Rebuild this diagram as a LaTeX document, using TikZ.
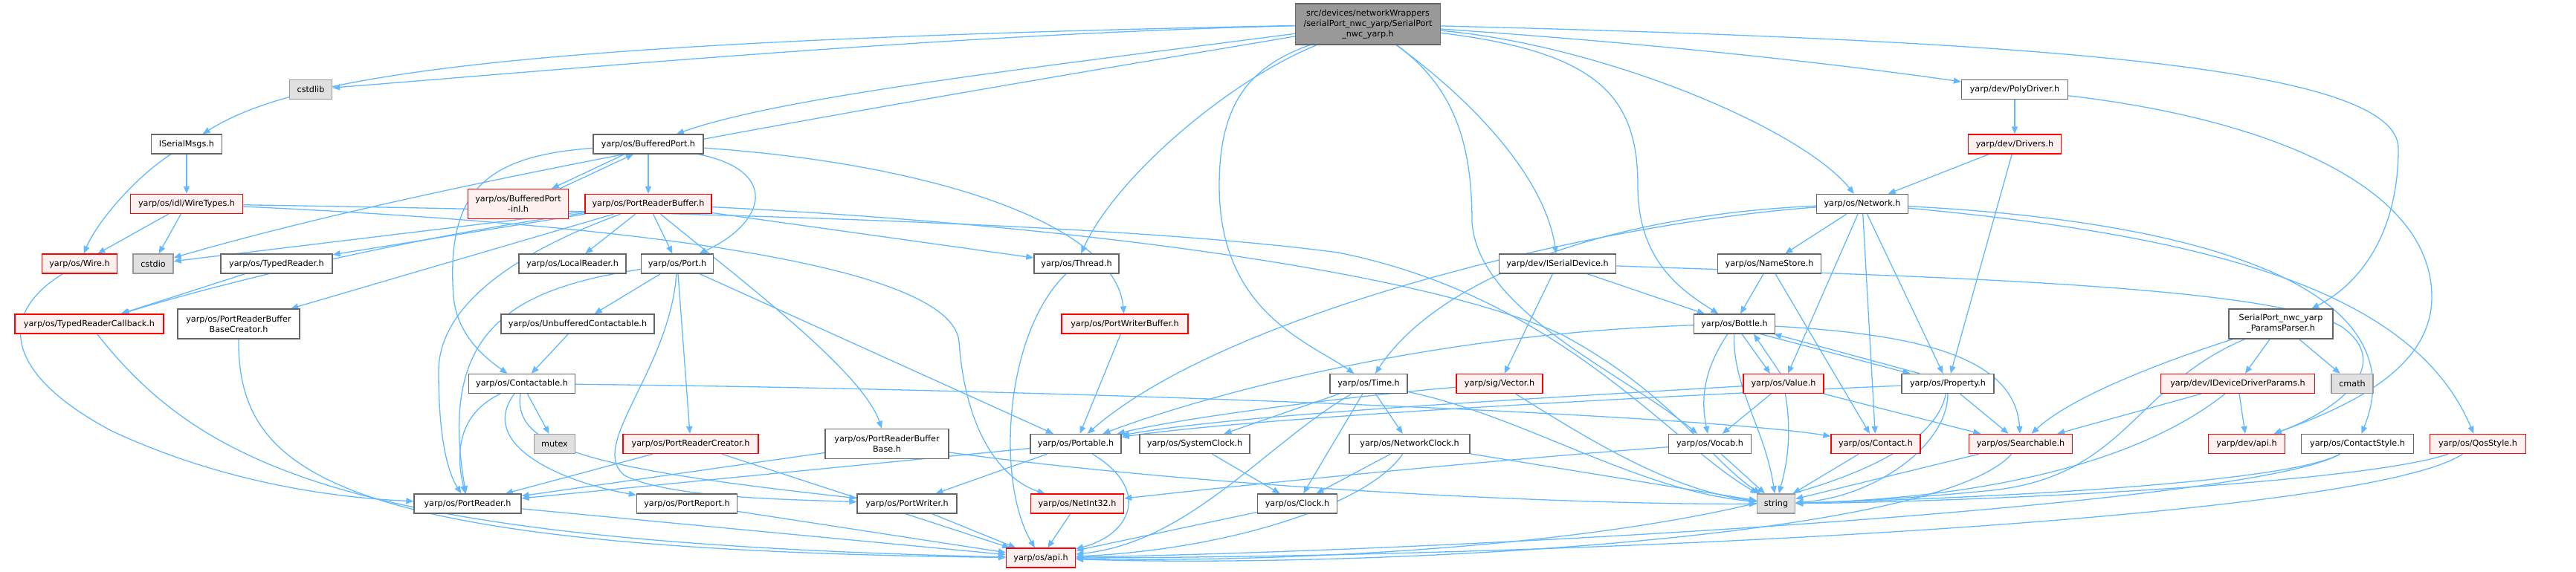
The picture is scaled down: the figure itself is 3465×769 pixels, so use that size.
\documentclass[tikz,border=0pt]{standalone}
\usepackage{fontspec}
\newfontfamily\dvs{DejaVu Sans}
\usetikzlibrary{arrows.meta,backgrounds}
\definecolor{edgec}{HTML}{63B8FF}
\definecolor{redfill}{HTML}{FFF0F0}
\definecolor{grayfill}{HTML}{E0E0E0}
\definecolor{rootfill}{HTML}{999999}
\definecolor{bord}{HTML}{666666}
\definecolor{gbord}{HTML}{999999}
\definecolor{rbord}{HTML}{FF0000}
\begin{document}
\begin{tikzpicture}[x=1pt,y=-1pt,
  nb/.style={draw=bord, fill=white, line width=1.3pt, minimum height=26pt, inner sep=0pt, align=center, font=\dvs\fontsize{11.2}{14}\selectfont},
  nr/.style={nb, draw=rbord, fill=redfill},
  ng/.style={nb, draw=gbord, fill=grayfill},
  nroot/.style={nb, fill=rootfill, minimum height=55pt},
  tall/.style={minimum height=40pt},
  e/.style={draw=edgec, line width=1.3pt, -{Triangle[length=10pt,width=8pt]}}
]
\useasboundingbox (0,0) rectangle (3465,769);
% rank 0
\node[nroot, minimum width=195pt] (root) at (1840,32.5) {src/devices/networkWrappers\\/serialPort\_nwc\_yarp/SerialPort\\\_nwc\_yarp.h};
% rank 1
\node[ng, minimum width=57pt] (cstdlib) at (418,120.5) {cstdlib};
\node[nb, minimum width=143pt] (polydriver) at (2710,120.5) {yarp/dev/PolyDriver.h};
% rank 2
\node[nb, minimum width=95pt] (isermsg) at (251,194) {ISerialMsgs.h};
\node[nb, minimum width=148pt] (bufport) at (872,194) {yarp/os/BufferedPort.h};
\node[nr, minimum width=125pt] (drivers) at (2710,194) {yarp/dev/Drivers.h};
% rank 3
\node[nr, minimum width=151pt] (wiretypes) at (251,274.5) {yarp/os/idl/WireTypes.h};
\node[nr, tall, minimum width=135pt] (bpinl) at (697,274.5) {yarp/os/BufferedPort\\-inl.h};
\node[nr, minimum width=170pt] (prb) at (872,274.5) {yarp/os/PortReaderBuffer.h};
\node[nb, minimum width=123pt] (network) at (2505,274.5) {yarp/os/Network.h};
% rank 4
\node[nr, minimum width=101pt] (wire) at (107,355) {yarp/os/Wire.h};
\node[ng, minimum width=54pt] (cstdio) at (206,355) {cstdio};
\node[nb, minimum width=150pt] (typedreader) at (372,355) {yarp/os/TypedReader.h};
\node[nb, minimum width=144pt] (localreader) at (770,355) {yarp/os/LocalReader.h};
\node[nb, minimum width=97pt] (port) at (911,355) {yarp/os/Port.h};
\node[nb, minimum width=114pt] (thread) at (1448,355) {yarp/os/Thread.h};
\node[nb, minimum width=157pt] (isd) at (2095,355) {yarp/dev/ISerialDevice.h};
\node[nb, minimum width=139pt] (namestore) at (2380,355) {yarp/os/NameStore.h};
% rank 5
\node[nr, minimum width=200pt] (trcb) at (120,436) {yarp/os/TypedReaderCallback.h};
\node[nb, tall, minimum width=164pt] (prbbc) at (321,436) {yarp/os/PortReaderBuffer\\BaseCreator.h};
\node[nb, minimum width=206pt] (unbuf) at (777,436) {yarp/os/UnbufferedContactable.h};
\node[nr, minimum width=170pt] (pwb) at (1513,436) {yarp/os/PortWriterBuffer.h};
\node[nb, minimum width=109pt] (bottle) at (2333,436) {yarp/os/Bottle.h};
\node[nb, tall, minimum width=140pt] (params) at (3068,436) {SerialPort\_nwc\_yarp\\\_ParamsParser.h};
% rank 6
\node[nb, minimum width=143pt] (contactable) at (702,516.5) {yarp/os/Contactable.h};
\node[nb, minimum width=104pt] (time) at (1841,516.5) {yarp/os/Time.h};
\node[nr, minimum width=116pt] (vector) at (2017,516.5) {yarp/sig/Vector.h};
\node[nr, minimum width=108pt] (value) at (2399,516.5) {yarp/os/Value.h};
\node[nb, minimum width=124pt] (property) at (2620,516.5) {yarp/os/Property.h};
\node[nr, minimum width=207pt] (idevparams) at (3010,516.5) {yarp/dev/IDeviceDriverParams.h};
\node[ng, minimum width=56pt] (cmath) at (3164,516.5) {cmath};
% rank 7
\node[ng, minimum width=55pt] (mutex) at (746,597.5) {mutex};
\node[nr, minimum width=182pt] (prcreator) at (929,597.5) {yarp/os/PortReaderCreator.h};
\node[nb, tall, minimum width=166pt] (prbbase) at (1193,597.5) {yarp/os/PortReaderBuffer\\Base.h};
\node[nb, minimum width=122pt] (portable) at (1447,597.5) {yarp/os/Portable.h};
\node[nb, minimum width=148pt] (sysclock) at (1607,597.5) {yarp/os/SystemClock.h};
\node[nb, minimum width=162pt] (netclock) at (1896,597.5) {yarp/os/NetworkClock.h};
\node[nb, minimum width=111pt] (vocab) at (2300,597.5) {yarp/os/Vocab.h};
\node[nr, minimum width=120pt] (contact) at (2523,597.5) {yarp/os/Contact.h};
\node[nr, minimum width=139pt] (searchable) at (2718,597.5) {yarp/os/Searchable.h};
\node[nr, minimum width=103pt] (devapi) at (3022,597.5) {yarp/dev/api.h};
\node[nb, minimum width=151pt] (contactstyle) at (3171,597.5) {yarp/os/ContactStyle.h};
\node[nr, minimum width=129pt] (qosstyle) at (3333,597.5) {yarp/os/QosStyle.h};
% rank 8
\node[nb, minimum width=144pt] (portreader) at (629,678) {yarp/os/PortReader.h};
\node[nb, minimum width=135pt] (portreport) at (924,678) {yarp/os/PortReport.h};
\node[nb, minimum width=134pt] (portwriter) at (1220,678) {yarp/os/PortWriter.h};
\node[nr, minimum width=125pt] (netint) at (1449,678) {yarp/os/NetInt32.h};
\node[nb, minimum width=107pt] (clock) at (1745,678) {yarp/os/Clock.h};
\node[ng, minimum width=51pt] (string) at (2389,678) {string};
% rank 9
\node[nr, minimum width=93pt] (api) at (1400,751) {yarp/os/api.h};

\begin{scope}[on background layer]
% root
\draw[e] (root) .. controls (1300,45) and (800,90) .. (cstdlib);
\draw[e] (root) .. controls (700,55) and (400,100) .. (isermsg);
\draw[e] (root) .. controls (1400,90) and (1050,130) .. (bufport);
\draw[e] (root) .. controls (1200,140) and (600,240) .. (cstdio);
\draw[e] (root) .. controls (1650,110) and (1500,240) .. (thread);
\draw[e] (root) .. controls (1680,90) and (1640,140) .. (1640,250) .. controls (1640,420) and (1760,460) .. (time);
\draw[e] (root) .. controls (2000,150) and (2080,250) .. (isd);
\draw[e] (root) .. controls (2150,70) and (2203,130) .. (2203,250) .. controls (2203,350) and (2260,390) .. (bottle);
\draw[e] (root) .. controls (1960,120) and (1980,200) .. (1980,300) .. controls (1990,420) and (2180,500) .. (vocab);
\draw[e] (root) .. controls (2150,60) and (2420,170) .. (network);
\draw[e] (root) .. controls (2250,60) and (2500,90) .. (polydriver);
\draw[e] (root) .. controls (2750,55) and (3226,90) .. (3226,200) .. controls (3226,330) and (3160,390) .. (params);
% left cluster
\draw[e] (isermsg) -- (wiretypes);
\draw[e] (isermsg) .. controls (180,240) and (130,300) .. (wire);
\draw[e] (wiretypes) -- (wire);
\draw[e] (wiretypes) -- (cstdio);
\draw[e] (wiretypes) .. controls (800,300) and (1280,350) .. (1290,460) .. controls (1300,600) and (1360,650) .. (netint);
\draw[e] (wiretypes) .. controls (900,285) and (1500,300) .. (1800,340) .. controls (2100,400) and (2250,600) .. (string);
\draw[e] ([xshift=-32pt]bufport.south) -- ([xshift=45pt]bpinl.north);
\draw[e] ([xshift=56pt]bpinl.north) -- ([xshift=-20pt]bufport.south);
\draw[e] (bufport) -- (prb);
\draw[e] (bufport) .. controls (1050,230) and (1030,300) .. (port);
\draw[e] (bufport) .. controls (1250,220) and (1500,300) .. (pwb);
\draw[e] (bufport) .. controls (650,210) and (600,260) .. (610,400) .. controls (615,450) and (650,480) .. (contactable);
\draw[e] (prb) -- (cstdio);
\draw[e] (prb) -- (typedreader);
\draw[e] (prb) .. controls (550,320) and (300,380) .. (trcb);
\draw[e] (prb) -- (prbbc);
\draw[e] (prb) -- (localreader);
\draw[e] (prb) -- (port);
\draw[e] (prb) .. controls (1000,380) and (1160,500) .. (prbbase);
\draw[e] (prb) -- (thread);
\draw[e] (prb) .. controls (1400,300) and (1900,360) .. (2100,450) .. controls (2250,530) and (2300,620) .. (string);
\draw[e] (prb) .. controls (720,330) and (590,400) .. (590,500) .. controls (590,600) and (605,640) .. (portreader);
\draw[e] (typedreader) -- (trcb);
\draw[e] (trcb) .. controls (280,640) and (500,730) .. (api);
\draw[e] (prbbc) .. controls (320,640) and (450,740) .. (api);
\draw[e] (wire) .. controls (0,420) and (0,500) .. (150,580) .. controls (300,650) and (450,670) .. (portreader);
\draw[e] (port) -- (unbuf);
\draw[e] (port) .. controls (680,390) and (590,450) .. (portreader);
\draw[e] (port) .. controls (900,500) and (790,600) .. (840,640) .. controls (900,670) and (1050,672) .. (portwriter);
\draw[e] (port) -- (prcreator);
\draw[e] (port) -- (portable);
\draw[e] (unbuf) -- (contactable);
\draw[e] (contactable) .. controls (610,560) and (615,620) .. (portreader);
\draw[e] (contactable) .. controls (640,600) and (760,650) .. (portreport);
\draw[e] (contactable) .. controls (690,600) and (780,630) .. (portwriter);
\draw[e] (contactable) -- (mutex);
\draw[e] (contactable) .. controls (1500,525) and (2300,560) .. (contact);
\draw[e] (prcreator) -- (portreader);
\draw[e] (prcreator) -- (api);
\draw[e] (prbbase) -- (portreader);
\draw[e] (prbbase) .. controls (1650,660) and (2150,680) .. (string);
\draw[e] (pwb) -- (portable);
\draw[e] (thread) .. controls (1350,450) and (1340,650) .. (api);
\draw[e] (portable) -- (portreader);
\draw[e] (portable) -- (portwriter);
\draw[e] (portable) .. controls (1550,660) and (1520,720) .. (api);
\draw[e] (portreader) -- (api);
\draw[e] (portreport) -- (api);
\draw[e] (portwriter) -- (api);
\draw[e] (netint) -- (api);
\draw[e] (clock) -- (api);
\draw[e] (sysclock) -- (clock);
\draw[e] (netclock) -- (clock);
\draw[e] (netclock) .. controls (1840,680) and (1650,740) .. (api);
\draw[e] (netclock) -- (string);
\draw[e] (time) -- (clock);
\draw[e] (time) -- (sysclock);
\draw[e] (time) -- (netclock);
\draw[e] (time) .. controls (1700,600) and (1600,730) .. (api);
\draw[e] (time) .. controls (2050,560) and (2200,660) .. (string);
\draw[e] (vector) .. controls (1850,530) and (1600,560) .. (portable);
\draw[e] (vector) .. controls (2150,600) and (2250,660) .. (string);
\draw[e] (isd) -- (vector);
\draw[e] (isd) -- (bottle);
\draw[e] (isd) .. controls (2500,370) and (3050,380) .. (3150,440) .. controls (3220,490) and (3150,550) .. (devapi);
\draw[e] (namestore) -- (bottle);
\draw[e] (namestore) -- (contact);
\draw[e] (network) -- (namestore);
\draw[e] (network) -- (value);
\draw[e] (network) -- (contact);
\draw[e] (network) -- (property);
\draw[e] (network) .. controls (2150,300) and (1650,420) .. (portable);
\draw[e] (network) .. controls (2150,290) and (1930,380) .. (time);
\draw[e] (network) .. controls (3000,300) and (3250,400) .. (contactstyle);
\draw[e] (network) .. controls (3000,320) and (3250,400) .. (qosstyle);
\draw[e] (polydriver) -- (drivers);
\draw[e] (polydriver) .. controls (3050,160) and (3271,250) .. (3271,400) .. controls (3271,500) and (3150,550) .. (devapi);
\draw[e] (drivers) -- (network);
\draw[e] (drivers) -- (property);
\draw[e] (bottle) .. controls (1900,450) and (1600,540) .. (portable);
\draw[e] (bottle) .. controls (2580,450) and (2710,480) .. (searchable);
\draw[e] ([xshift=-20pt]bottle.south east) -- ([xshift=12pt]property.north west);
\draw[e] ([xshift=25pt]property.north west) -- ([xshift=-2pt]bottle.south east);
\draw[e] ([xshift=10pt]bottle.south) -- ([xshift=-18pt]value.north);
\draw[e] ([xshift=-4pt]value.north) -- ([xshift=26pt]bottle.south);
\draw[e] (bottle) .. controls (2290,500) and (2288,540) .. (vocab);
\draw[e] (bottle) .. controls (2330,520) and (2375,580) .. (string);
\draw[e] (value) .. controls (2000,540) and (1650,560) .. (portable);
\draw[e] (value) -- (searchable);
\draw[e] (value) -- (vocab);
\draw[e] (value) .. controls (2410,580) and (2405,620) .. (string);
\draw[e] (property) .. controls (2300,530) and (1700,560) .. (portable);
\draw[e] (property) -- (searchable);
\draw[e] (property) .. controls (2620,600) and (2520,670) .. (string);
\draw[e] (property) .. controls (2580,720) and (1800,760) .. (api);
\draw[e] (searchable) -- (string);
\draw[e] (searchable) .. controls (2600,730) and (1800,765) .. (api);
\draw[e] (vocab) -- (string);
\draw[e] (vocab) .. controls (2000,620) and (1700,650) .. (netint);
\draw[e] (contact) -- (string);
\draw[e] (params) -- (idevparams);
\draw[e] (params) -- (cmath);
\draw[e] (params) .. controls (2930,480) and (2790,530) .. (searchable);
\draw[e] (params) .. controls (2870,520) and (2860,640) .. (2680,660) .. controls (2580,670) and (2480,676) .. (string);
\draw[e] (idevparams) -- (devapi);
\draw[e] (idevparams) -- (searchable);
\draw[e] (idevparams) .. controls (2880,620) and (2680,670) .. (string);
\draw[e] (contactstyle) .. controls (3080,650) and (2680,670) .. (string);
\draw[e] (contactstyle) .. controls (3030,680) and (2000,740) .. (api);
\draw[e] (qosstyle) .. controls (3180,650) and (2680,675) .. (string);
\draw[e] (qosstyle) .. controls (3180,700) and (2100,750) .. (api);
\end{scope}
\end{tikzpicture}
\end{document}
